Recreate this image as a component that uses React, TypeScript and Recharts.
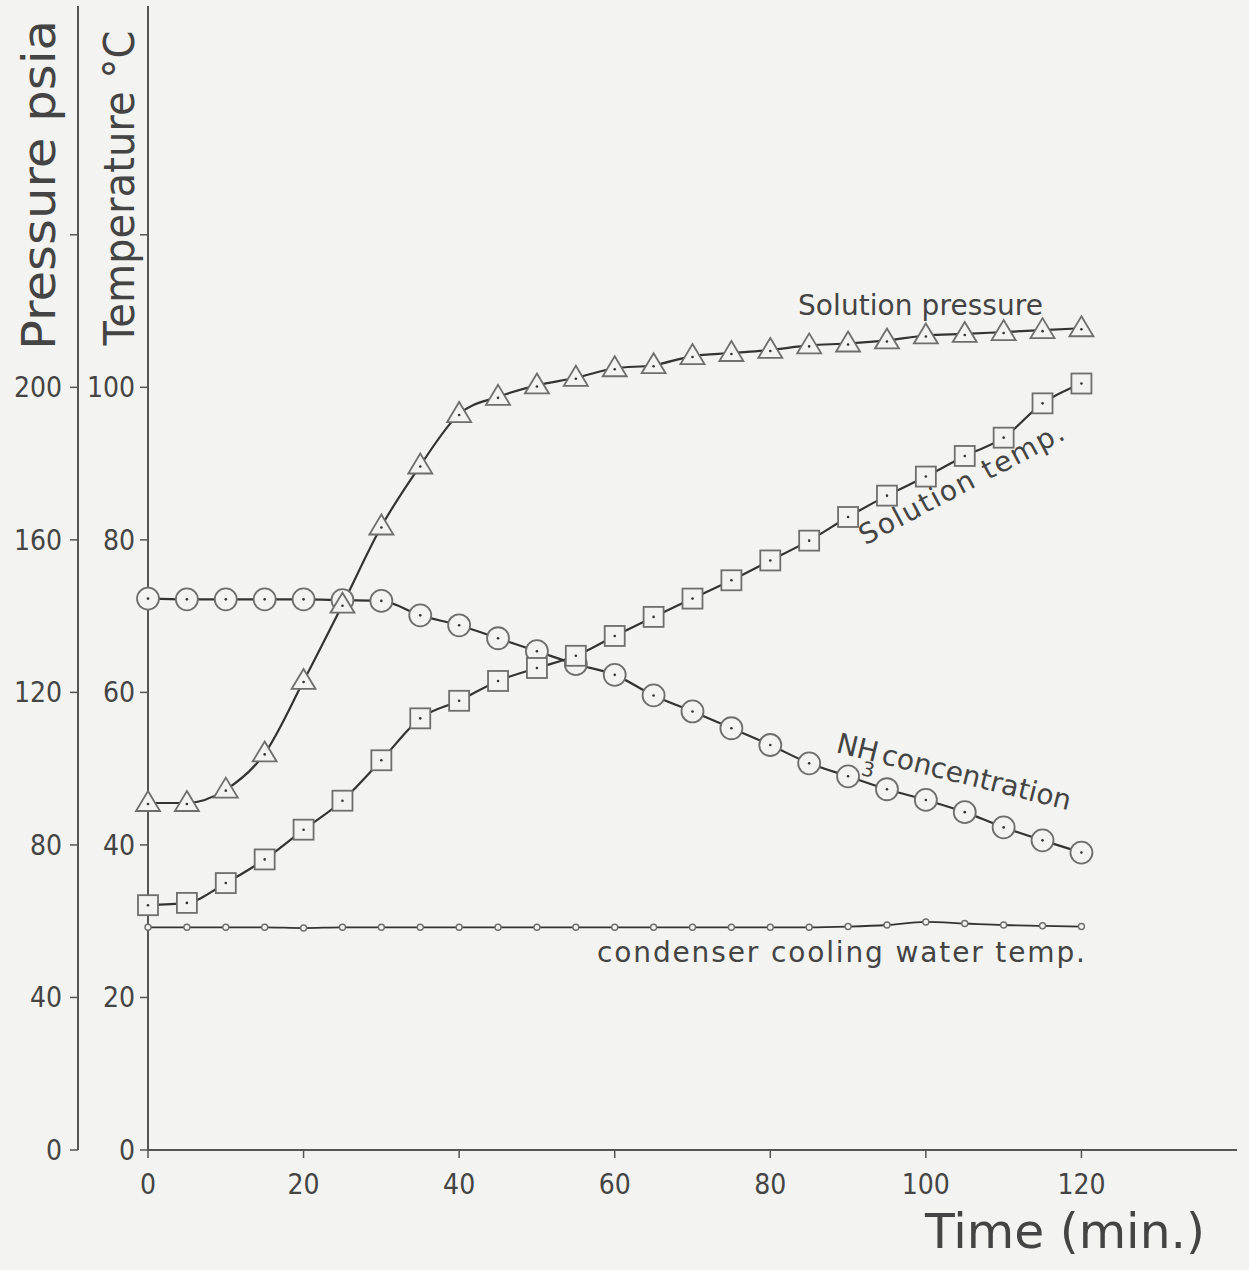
import { LineChart, Line, XAxis, YAxis } from "recharts";

// sampling times (min.)
const time = [0, 5, 10, 15, 20, 25, 30, 35, 40, 45, 50, 55, 60, 65, 70, 75, 80, 85, 90, 95, 100, 105, 110, 115, 120];

// psia
const solutionPressure = [91, 91, 94.5, 104, 123, 143, 163.5, 179.5, 193, 197.5, 200.5, 202.5, 205, 205.8, 208.2, 209, 209.8, 211, 211.5, 212.3, 213.6, 214, 214.5, 215, 215.5];

// deg C
const solutionTemp = [32.1, 32.4, 35, 38.1, 42, 45.8, 51.1, 56.6, 58.9, 61.5, 63.2, 64.8, 67.4, 69.9, 72.3, 74.7, 77.3, 79.9, 83, 85.8, 88.3, 91, 93.4, 97.9, 100.5];

// plotted against the temperature scale
const nh3Concentration = [72.3, 72.2, 72.2, 72.2, 72.2, 72.1, 72, 70.1, 68.8, 67.1, 65.4, 63.7, 62.3, 59.6, 57.5, 55.3, 53.1, 50.7, 49, 47.3, 45.9, 44.3, 42.3, 40.6, 39];

const coolingWaterTemp = [29.2, 29.2, 29.2, 29.2, 29.1, 29.2, 29.2, 29.2, 29.2, 29.2, 29.2, 29.2, 29.2, 29.2, 29.2, 29.2, 29.2, 29.2, 29.3, 29.5, 29.9, 29.7, 29.5, 29.4, 29.3];

const timeTicks = [0, 20, 40, 60, 80, 100, 120];
const tempTicks = [0, 20, 40, 60, 80, 100, 120];
const pressureTicks = [0, 40, 80, 120, 160, 200, 240];

const data = time.map((t, i) => ({
  t,
  pressure: solutionPressure[i],
  temp: solutionTemp[i],
  nh3: nh3Concentration[i],
  water: coolingWaterTemp[i],
}));

const PAPER = "#f3f3f1";
const INK = "#333";
const MARK = "#6e6e6e";
const FONT = "'DejaVu Sans', sans-serif";
const TICK_FONT = "'DejaVu Sans Condensed', 'DejaVu Sans', sans-serif";

const triDot = (p: any) => {
  const { cx, cy, index } = p;
  return (
    <g key={`tri-${index}`}>
      <path d={`M${cx},${cy - 12} L${cx + 12},${cy + 8} L${cx - 12},${cy + 8} Z`} fill={PAPER} stroke={MARK} strokeWidth={1.8} />
      <circle cx={cx} cy={cy + 1} r={1.3} fill={INK} />
    </g>
  );
};

const sqDot = (p: any) => {
  const { cx, cy, index } = p;
  return (
    <g key={`sq-${index}`}>
      <rect x={cx - 10} y={cy - 10} width={20} height={20} fill={PAPER} stroke={MARK} strokeWidth={1.8} />
      <circle cx={cx} cy={cy} r={1.3} fill={INK} />
    </g>
  );
};

const circDot = (p: any) => {
  const { cx, cy, index } = p;
  return (
    <g key={`ci-${index}`}>
      <circle cx={cx} cy={cy} r={11} fill={PAPER} stroke={MARK} strokeWidth={1.8} />
      <circle cx={cx} cy={cy} r={1.3} fill={INK} />
    </g>
  );
};

const smallDot = (p: any) => {
  const { cx, cy, index } = p;
  return <circle key={`sm-${index}`} cx={cx} cy={cy} r={3} fill={PAPER} stroke={MARK} strokeWidth={1.4} />;
};

// axis ids: "a" sits next to the plot, "z" outside it
const TEMP = "a-temp";
const PRESS = "z-press";

export default function App() {
  const tickStyle = { fontSize: 28, fontFamily: TICK_FONT, fill: "#444" };
  return (
    <div style={{ position: "absolute", left: 0, top: 0, width: 1249, height: 1270, background: PAPER }}>
      <LineChart width={1249} height={1270} data={data} margin={{ top: 6, right: 12, bottom: 0, left: 0 }}>
        <XAxis
          dataKey="t"
          type="number"
          domain={[0, 140]}
          ticks={timeTicks}
          height={120}
          tick={tickStyle}
          tickSize={8}
          tickMargin={16}
          axisLine={{ stroke: "#555", strokeWidth: 2 }}
          tickLine={{ stroke: "#555", strokeWidth: 1.5 }}
        />
        <YAxis
          yAxisId={TEMP}
          domain={[0, 150]}
          ticks={tempTicks}
          width={70}
          tick={tickStyle}
          tickSize={8}
          tickMargin={5}
          tickFormatter={(v: number) => (v <= 100 ? String(v) : "")}
          axisLine={{ stroke: "#555", strokeWidth: 2 }}
          tickLine={{ stroke: "#555", strokeWidth: 1.5 }}
        />
        <YAxis
          yAxisId={PRESS}
          domain={[0, 300]}
          ticks={pressureTicks}
          width={78}
          tick={tickStyle}
          tickSize={8}
          tickMargin={8}
          tickFormatter={(v: number) => (v <= 200 ? String(v) : "")}
          axisLine={{ stroke: "#555", strokeWidth: 2 }}
          tickLine={{ stroke: "#555", strokeWidth: 1.5 }}
        />
        <Line yAxisId={TEMP} dataKey="water" type="monotone" stroke={INK} strokeWidth={1.8} dot={smallDot} activeDot={false} isAnimationActive={false} />
        <Line yAxisId={TEMP} dataKey="nh3" type="monotone" stroke={INK} strokeWidth={2.2} dot={circDot} activeDot={false} isAnimationActive={false} />
        <Line yAxisId={TEMP} dataKey="temp" type="monotone" stroke={INK} strokeWidth={2.2} dot={sqDot} activeDot={false} isAnimationActive={false} />
        <Line yAxisId={PRESS} dataKey="pressure" type="monotone" stroke={INK} strokeWidth={2.2} dot={triDot} activeDot={false} isAnimationActive={false} />
      </LineChart>

      <svg width={1249} height={1270} style={{ position: "absolute", left: 0, top: 0, pointerEvents: "none" }}>
        <g fontFamily={FONT} fill="#444" style={{ whiteSpace: "pre" }}>
          <text x={55} y={185} fontSize={46} textAnchor="middle" transform="rotate(-90 55 185)" textLength={330} lengthAdjust="spacingAndGlyphs">
            Pressure psia
          </text>
          <text x={134} y={188} fontSize={42} textAnchor="middle" transform="rotate(-90 134 188)" textLength={315} lengthAdjust="spacingAndGlyphs">
            Temperature °C
          </text>
          <text x={925} y={1248} fontSize={48} textLength={280} lengthAdjust="spacingAndGlyphs">
            Time (min.)
          </text>
          <text x={798} y={315} fontSize={28} textLength={245} lengthAdjust="spacing">
            Solution  pressure
          </text>
          <text x={966} y={492} fontSize={28} textAnchor="middle" transform="rotate(-28 966 492)" textLength={228} lengthAdjust="spacing">
            Solution temp.
          </text>
          <g transform="rotate(14 835 752)">
            <text x={835} y={752} fontSize={28}>
              NH
              <tspan dx={-12} dy={16} fontSize={20}>3</tspan>
              <tspan dx={4} dy={-16}>concentration</tspan>
            </text>
          </g>
          <text x={597} y={962} fontSize={28} textLength={488} lengthAdjust="spacing">
            condenser  cooling  water  temp.
          </text>
        </g>
      </svg>
    </div>
  );
}
